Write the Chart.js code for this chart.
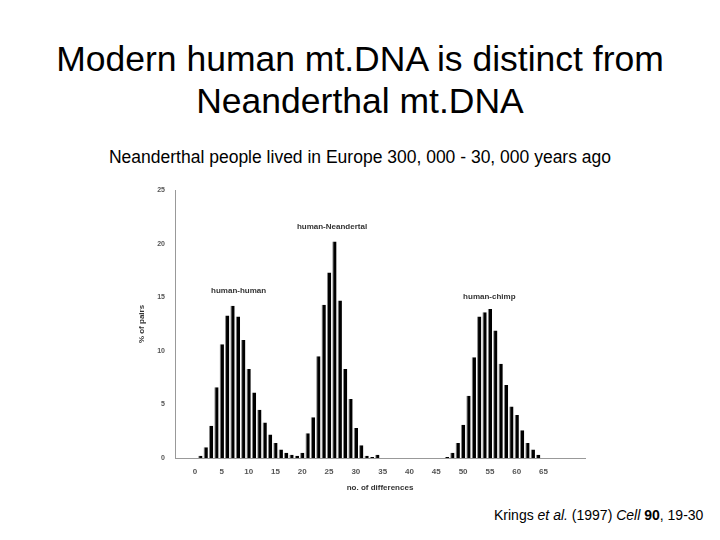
<!DOCTYPE html><html><head><meta charset="utf-8">
<script src="https://cdn.jsdelivr.net/npm/chart.js@4"></script>
<style>body{margin:0;width:720px;height:540px;position:relative;font-family:"Liberation Sans",Arial,sans-serif;background:#fff}
.t{position:absolute;left:0;width:720px;text-align:center}
</style></head><body>
<div class="t" style="top:38px;font-size:35.5px;line-height:42px">Modern human mt.DNA is distinct from<br>Neanderthal mt.DNA</div>
<div class="t" style="top:147px;font-size:17.5px">Neanderthal people lived in Europe 300, 000 - 30, 000 years ago</div>
<div style="position:absolute;left:494px;top:507px;font-size:14px">Krings <i>et al.</i> (1997) <i>Cell</i> <b>90</b>, 19-30</div>
<canvas id="c" width="720" height="540" style="position:absolute;left:0;top:0"></canvas>
<script>
const differences=[1,2,3,4,5,6,7,8,9,10,11,12,13,14,15,16,17,18,19,20,21,22,23,24,25,26,27,28,29,30,31,32,33,34,47,48,49,50,51,52,53,54,55,56,57,58,59,60,61,62,63,64];
const percentPairs=[0.2,1.0,3.0,6.6,10.6,13.3,14.2,13.2,11.0,8.3,6.1,4.5,3.3,2.2,1.4,0.8,0.5,0.3,0.2,0.5,2.3,3.8,9.5,14.3,17.3,20.2,14.7,8.3,5.5,2.8,1.2,0.2,0.1,0.3,0.1,0.5,1.4,3.1,5.8,9.4,13.2,13.6,13.9,11.9,8.8,6.8,4.8,4.0,2.6,1.4,0.8,0.3];
const xTicks=[0,5,10,15,20,25,30,35,40,45,50,55,60,65];
const yTicks=[0,5,10,15,20,25];
const labels=[{t:"human-human",x:3,y:15.6},{t:"human-Neandertal",x:19,y:21.6},{t:"human-chimp",x:50,y:15}];
const ann={id:'ann',afterDatasetsDraw(ch){const c=ch.ctx,sx=ch.scales.x,sy=ch.scales.y;c.save();c.font='bold 8px "Liberation Sans",Arial';c.fillStyle='#333';c.textBaseline='middle';labels.forEach(l=>c.fillText(l.t,sx.getPixelForValue(l.x),sy.getPixelForValue(l.y)));c.restore();}};
new Chart(document.getElementById('c'),{type:'bar',
data:{datasets:[{data:differences.map((d,i)=>({x:d,y:percentPairs[i]})),backgroundColor:'#000',borderColor:'#888',borderWidth:{left:1},barPercentage:0.8,categoryPercentage:1}]},
options:{responsive:false,animation:false,layout:{padding:{left:135,right:135,top:190,bottom:47}},
plugins:{legend:{display:false},tooltip:{enabled:false}},
scales:{x:{type:'linear',min:-1,max:70,afterFit(s){s.height=35},afterBuildTicks(s){s.ticks=xTicks.map(v=>({value:v}))},grid:{display:false,drawTicks:true},border:{color:'#999'},ticks:{font:{size:8,weight:'bold'},color:'#555',padding:1,maxRotation:0},title:{display:true,text:'no. of differences',font:{size:8,weight:'bold'},color:'#333',padding:0}},
y:{min:0,max:25,afterFit(s){s.width=40},afterBuildTicks(s){s.ticks=yTicks.map(v=>({value:v}))},grid:{display:false},border:{color:'#999'},ticks:{font:{size:7,weight:'bold'},color:'#555',padding:2},title:{display:true,text:'% of pairs',font:{size:8,weight:'bold'},color:'#333',padding:2}}}},
plugins:[ann]});
</script></body></html>
